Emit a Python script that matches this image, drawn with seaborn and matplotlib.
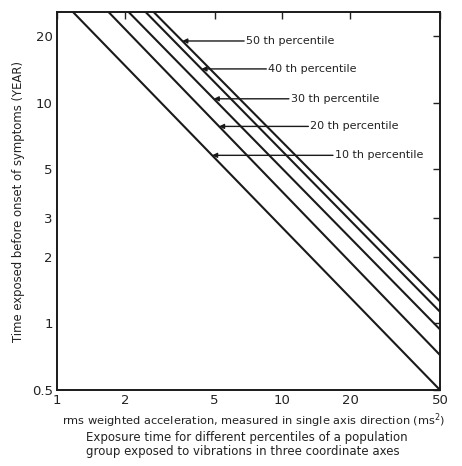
import numpy as np
import pandas as pd
import matplotlib
matplotlib.use("Agg")
import matplotlib.pyplot as plt
import seaborn as sns

# Data: each percentile line is straight on log-log axes; values read at a = 1 and a = 50 m/s^2
accel = [1, 50]
p10 = [30.5, 0.50]
p20 = [44.8, 0.72]
p30 = [55.0, 0.94]
p40 = [65.8, 1.13]
p50 = [71.1, 1.26]
percentiles = ["10 th percentile", "20 th percentile", "30 th percentile",
               "40 th percentile", "50 th percentile"]
# y level (years) where each label arrow meets its line, and label x position
arrow_y = [5.77, 7.8, 10.4, 14.2, 19.0]
label_x = [17.1, 13.3, 10.9, 8.66, 6.9]

xticks = [1, 2, 5, 10, 20, 50]
xticklabels = ["1", "2", "5", "10", "20", "50"]
yticks = [0.5, 1, 2, 3, 5, 10, 20]
yticklabels = ["0.5", "1", "2", "3", "5", "10", "20"]

sns.set_theme(style="white")
plt.rcParams['font.family'] = ['DejaVu Sans']

rows = []
for name, vals in zip(percentiles, [p10, p20, p30, p40, p50]):
    for a, v in zip(accel, vals):
        rows.append({"accel": a, "years": v, "pct": name})
df = pd.DataFrame(rows)

fig = plt.figure(figsize=(4.62, 4.66), dpi=100)
ax = fig.add_axes([57/462, 1 - 390/466, (440-57)/462, (390-12)/466])

sns.lineplot(data=df, x="accel", y="years", units="pct", estimator=None,
             color="#1a1a1a", linewidth=1.5, ax=ax, legend=False)

ax.set_xscale("log")
ax.set_yscale("log")
ax.set_xlim(1, 50)
ax.set_ylim(0.5, 25.7)

ax.set_xticks(xticks)
ax.set_xticklabels(xticklabels)
ax.set_yticks(yticks)
ax.set_yticklabels(yticklabels)
ax.minorticks_off()
ax.tick_params(axis="both", which="major", direction="in", length=5, width=1,
               top=True, right=True, labelsize=9.5, colors="#222222", pad=3)
for s in ax.spines.values():
    s.set_color("#1a1a1a")
    s.set_linewidth(1.4)

# Labels with arrows pointing to lines
for name, vals, yv, lx in zip(percentiles, [p10, p20, p30, p40, p50], arrow_y, label_x):
    la = np.log10(accel)
    lv = np.log10(vals)
    slope = (lv[1] - lv[0]) / (la[1] - la[0])
    xa = 10 ** (la[0] + (np.log10(yv) - lv[0]) / slope)
    ax.annotate("", xy=(xa, yv), xytext=(lx * 0.98, yv),
                arrowprops=dict(arrowstyle="-|>", color="#1a1a1a", lw=1.0,
                                mutation_scale=7, shrinkA=0, shrinkB=0))
    ax.text(lx, yv, name, ha="left", va="center", fontsize=8, color="#222222")

ax.set_xlabel("")
fig.text(0.55, 1 - 421/466,
         "rms weighted acceleration, measured in single axis direction (ms$^{2}$)",
         ha="center", va="center", fontsize=8.2, color="#222222")
ax.set_ylabel("Time exposed before onset of symptoms (YEAR)", fontsize=8.4,
              color="#222222", labelpad=5)

fig.text(0.535, 1 - 437/466,
         "Exposure time for different percentiles of a population",
         ha="center", va="center", fontsize=8.5, color="#222222")
fig.text(0.525, 1 - 452/466,
         "group exposed to vibrations in three coordinate axes",
         ha="center", va="center", fontsize=8.5, color="#222222")

fig.savefig("out.png", dpi=100, facecolor="white")
